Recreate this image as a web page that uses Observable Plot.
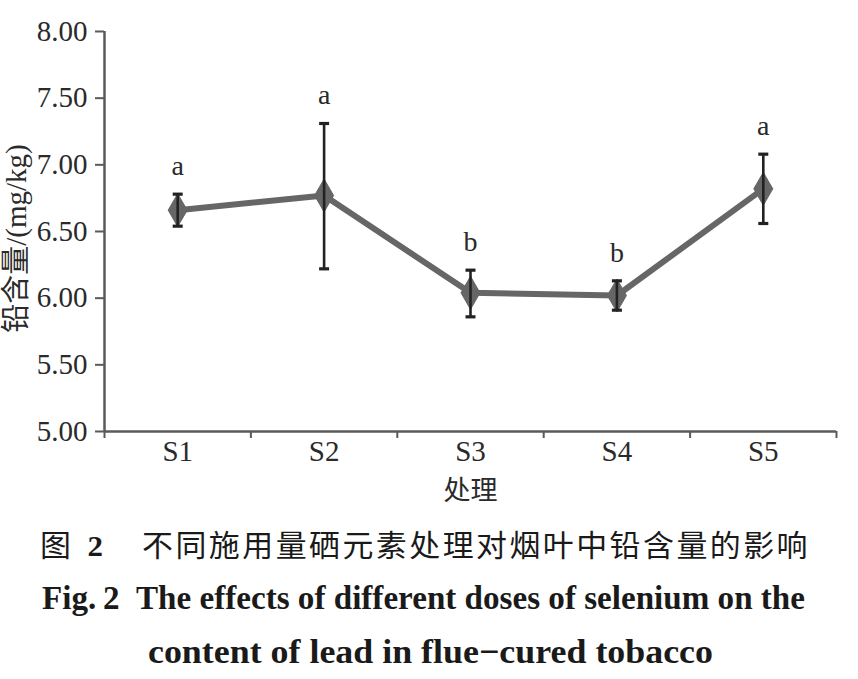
<!DOCTYPE html>
<html>
<head>
<meta charset="utf-8">
<script src="https://cdn.jsdelivr.net/npm/d3@7"></script>
<script src="https://cdn.jsdelivr.net/npm/@observablehq/plot@0.6"></script>
<style>
  html, body { margin: 0; padding: 0; background: #fff; }
  #wrap { position: relative; width: 858px; height: 679px; overflow: hidden; background: #fff; }
  #chart { position: absolute; left: 0; top: 0; }
  #chart svg text { font-family: "Liberation Serif", "Times New Roman", "Noto Sans CJK SC", serif; }
  .cap { position: absolute; left: 0; white-space: nowrap; transform-origin: 0 50%; color: #1a1a1a; }
  .zh { font-family: "Noto Sans CJK SC", sans-serif; font-size: 30px; line-height: 36px; }
  .en { font-family: "Liberation Serif", "Times New Roman", serif; font-weight: bold; font-size: 34px; line-height: 40px; }
</style>
</head>
<body>
<div id="wrap">
  <div id="chart"></div>
  <div class="cap zh" id="c1" data-left="40" data-width="770" style="top:525px"><span>图</span><span style="display:inline-block;width:16px"></span><span style="font-family:'Liberation Serif',serif;font-weight:bold">2</span><span style="display:inline-block;width:38px"></span><span style="letter-spacing:2.4px">不同施用量硒元素处理对烟叶中铅含量的影响</span></div>
  <div class="cap en" id="c2" data-left="42" data-width="763" style="top:578px">Fig.&#8201;2&#8194;The effects of different doses of selenium on the</div>
  <div class="cap en" id="c3" data-left="148" data-width="565" style="top:632px">content of lead in flue−cured tobacco</div>
</div>
<script>
const categories = ["S1", "S2", "S3", "S4", "S5"];
const means = [6.66, 6.77, 6.04, 6.02, 6.82];
const errUpper = [6.78, 7.31, 6.21, 6.13, 7.08];
const errLower = [6.54, 6.22, 5.86, 5.91, 6.56];
const letters = ["a", "a", "b", "b", "a"];
const yTicks = [5.00, 5.50, 6.00, 6.50, 7.00, 7.50, 8.00];
const yLabel = "铅含量/(mg/kg)";
const xLabel = "处理";

const data = categories.map((c, i) => ({
  idx: i + 1, cat: c, mean: means[i], hi: errUpper[i], lo: errLower[i], letter: letters[i]
}));
const catIndex = categories.map((c, i) => i + 1);
const bandEdges = d3.range(0.5, categories.length + 1, 1);

const capSymbol = {
  draw(context, size) {
    const w = 5;
    context.moveTo(-w, 0);
    context.lineTo(w, 0);
  }
};

const serif = "'Liberation Serif', 'Times New Roman', serif";
const axisGray = "#5a5a5a";
const textCol = "#2a2a2a";

const plot = Plot.plot({
  width: 858,
  height: 515,
  marginLeft: 104,
  marginRight: 22,
  marginTop: 31,
  marginBottom: 84,
  style: { fontFamily: serif, background: "#fff", color: textCol },
  x: { type: "linear", domain: [0.5, categories.length + 0.5] },
  y: { domain: [5, 8] },
  marks: [
    Plot.ruleX([0.5], { stroke: axisGray, strokeWidth: 2.5 }),
    Plot.ruleY([5], { stroke: axisGray, strokeWidth: 2.5 }),
    Plot.axisY({
      ticks: yTicks, tickFormat: d => d.toFixed(2), tickSize: 9, tickPadding: 8,
      fontSize: 29, fontFamily: serif, stroke: axisGray, strokeWidth: 2, label: null, fill: textCol
    }),
    Plot.axisX({ ticks: bandEdges, tickFormat: () => "", tickSize: 7, stroke: axisGray, strokeWidth: 2, label: null }),
    Plot.axisX({
      ticks: catIndex, tickFormat: i => categories[i - 1], tickSize: 0, tickPadding: 9,
      fontSize: 29, fontFamily: serif, label: null, fill: textCol
    }),
    Plot.line(data, { x: "idx", y: "mean", stroke: "#666", strokeWidth: 6, strokeLinejoin: "round" }),
    Plot.dot(data, { x: "idx", y: "mean", symbol: "diamond", r: 10, fill: "#666", stroke: "#666", strokeWidth: 1 }),
    Plot.ruleX(data, { x: "idx", y1: "lo", y2: "hi", stroke: "#222", strokeWidth: 2.6 }),
    Plot.dot(data, { x: "idx", y: "hi", symbol: capSymbol, r: 4, fill: "none", stroke: "#222", strokeWidth: 3.2 }),
    Plot.dot(data, { x: "idx", y: "lo", symbol: capSymbol, r: 4, fill: "none", stroke: "#222", strokeWidth: 3.2 }),
    Plot.text(data, { x: "idx", y: "hi", text: "letter", dy: -28, fontSize: 28, fontFamily: serif, fill: textCol }),
    Plot.text([yLabel], { frameAnchor: "left", textAnchor: "middle", text: d => d, rotate: -90, dx: -88, dy: 7, fontSize: 29, fill: textCol,
      fontFamily: "'Liberation Serif', 'Noto Sans CJK SC', serif" }),
    Plot.text([xLabel], { frameAnchor: "bottom", text: d => d, dy: 68, fontSize: 27, fill: textCol,
      fontFamily: "'Noto Sans CJK SC', serif" })
  ]
});
document.getElementById("chart").appendChild(plot);

for (const el of document.querySelectorAll(".cap")) {
  const target = +el.dataset.width;
  el.style.left = el.dataset.left + "px";
  const w = el.getBoundingClientRect().width;
  el.style.transform = `scaleX(${target / w})`;
}
</script>
</body>
</html>
